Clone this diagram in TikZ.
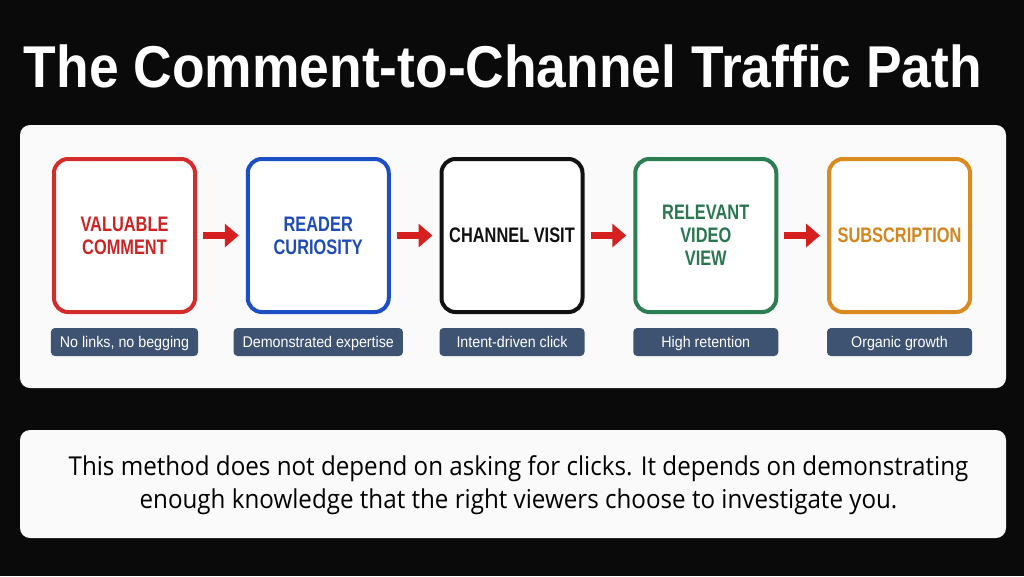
\documentclass[tikz,border=0pt]{standalone}
\usepackage{fontspec}
\setmainfont{Liberation Sans}
\newfontfamily\titlefont[FakeStretch=0.905]{Liberation Sans}
\newfontfamily\boxfont[FakeStretch=0.78]{Liberation Sans}
\newfontfamily\tagfont[FakeStretch=0.92]{Liberation Sans}
\newfontfamily\notefont[FakeStretch=0.93]{Open Sans}
\usetikzlibrary{arrows.meta}
\definecolor{bg}{HTML}{0A0A0A}
\definecolor{panel}{HTML}{FAFAFA}
\definecolor{cred}{HTML}{D42B2B}
\definecolor{cblue}{HTML}{1D4FC4}
\definecolor{cblack}{HTML}{111111}
\definecolor{cgreen}{HTML}{2B7D52}
\definecolor{corange}{HTML}{DB8A1F}
\definecolor{tred}{HTML}{CC2424}
\definecolor{tblue}{HTML}{1E4BB8}
\definecolor{tgreen}{HTML}{2A7650}
\definecolor{torange}{HTML}{D4861E}
\definecolor{tagbg}{HTML}{3E5272}
\definecolor{arrowred}{HTML}{D61F1F}
\tikzset{
  stepbox/.style={draw, line width=4pt, rounded corners=14pt, minimum width=141pt,
    minimum height=153pt, inner sep=0pt, align=center, fill=white,
    font=\boxfont\bfseries\fontsize{21}{23}\selectfont},
  tagbox/.style={fill=tagbg, rounded corners=4pt, minimum width=145pt, minimum height=28pt,
    inner xsep=9pt, inner ysep=0pt, text height=13pt, text depth=2pt, text=white,
    font=\tagfont\fontsize{15.5}{17}\selectfont},
  flow/.style={draw=arrowred, line width=7pt, -{Triangle[length=14pt,width=23pt]},
    shorten <=6pt, shorten >=7pt},
  panelbox/.style={fill=panel, rounded corners=10pt}
}
\begin{document}
\begin{tikzpicture}[x=1pt,y=-1pt]
\fill[bg] (0,0) rectangle (1024,576);
\useasboundingbox (0,0) rectangle (1024,576);
\node[text=white, font=\titlefont\bfseries\fontsize{59}{61}\selectfont] (title) at (503,66) {The Comment-to-Channel Traffic Path};
\fill[panelbox] (20,125) rectangle (1006,388);
\fill[panelbox] (20,430) rectangle (1006,538);
\node[stepbox, draw=cred, text=tred] (b1) at (124.5,235.5) {VALUABLE\\COMMENT};
\node[stepbox, draw=cblue, text=tblue] (b2) at (318.25,235.5) {READER\\CURIOSITY};
\node[stepbox, draw=cblack, text=cblack] (b3) at (512,235.5) {CHANNEL VISIT};
\node[stepbox, draw=cgreen, text=tgreen] (b4) at (705.75,235.5) {RELEVANT\\VIDEO\\VIEW};
\node[stepbox, draw=corange, text=torange] (b5) at (899.5,235.5) {SUBSCRIPTION};
\node[tagbox] (t1) at (124.5,342) {No links, no begging};
\node[tagbox] (t2) at (318.25,342) {Demonstrated expertise};
\node[tagbox] (t3) at (512,342) {Intent-driven click};
\node[tagbox] (t4) at (705.75,342) {High retention};
\node[tagbox] (t5) at (899.5,342) {Organic growth};
\draw[flow] (b1) -- (b2);
\draw[flow] (b2) -- (b3);
\draw[flow] (b3) -- (b4);
\draw[flow] (b4) -- (b5);
\node[align=center, text=black, font=\notefont\fontsize{26}{33}\selectfont] (note) at (518.5,485)
  {This method does not depend on asking for clicks. It depends on demonstrating\\enough knowledge that the right viewers choose to investigate you.};
\end{tikzpicture}
\end{document}
